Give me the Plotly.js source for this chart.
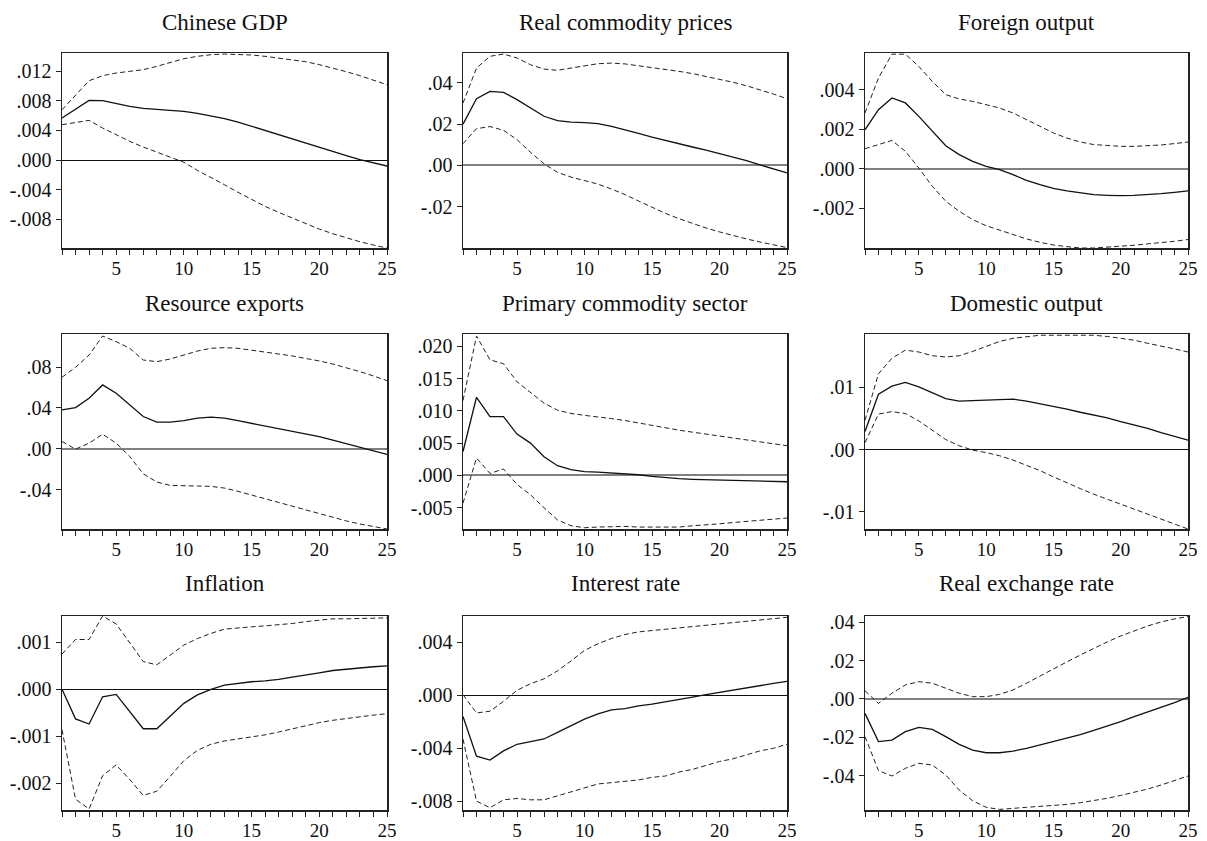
<!DOCTYPE html>
<html>
<head>
<meta charset="utf-8">
<script src="https://cdn.plot.ly/plotly-3.0.1.min.js"></script>
<style>html,body{margin:0;padding:0;background:#fff}#chart{width:1207px;height:841px}</style>
</head>
<body>
<div id="chart"></div>
<script>
// ---------- DATA ----------
const periods = [1,2,3,4,5,6,7,8,9,10,11,12,13,14,15,16,17,18,19,20,21,22,23,24,25];
const xLabelTicks = [5,10,15,20,25];

const titles = ["Chinese GDP","Real commodity prices","Foreign output",
                "Resource exports","Primary commodity sector","Domestic output",
                "Inflation","Interest rate","Real exchange rate"];

// Chinese GDP
const gdpResp  = [.00568,.0069,.00807,.00803,.00762,.00726,.00699,.00686,.00672,.00658,.00631,.006,.00559,.00514,.00456,.00397,.00343,.00284,.0023,.00171,.00117,.00059,.00005,-.00041,-.00081];
const gdpUpper = [.0068,.00884,.01073,.01141,.01177,.012,.01222,.01267,.01321,.01371,.01403,.01425,.01434,.0143,.01421,.01403,.0138,.01357,.0133,.0129,.01245,.01195,.01141,.01082,.01019];
const gdpLower = [.00478,.00508,.00537,.00433,.00343,.00253,.00176,.00104,.0004,-.0003,-.0014,-.00235,-.00334,-.00437,-.00537,-.00627,-.00708,-.00785,-.00861,-.00934,-.00997,-.01055,-.01105,-.0115,-.0119];
// Real commodity prices
const cpResp  = [.02,.0323,.0359,.0354,.0319,.0278,.0238,.0217,.021,.0207,.0202,.0189,.0173,.0155,.0137,.012,.0103,.0089,.0074,.0058,.0042,.0023,.0002,-.0018,-.0037];
const cpUpper = [.0302,.0472,.0529,.054,.0521,.0488,.0467,.0461,.0472,.0483,.0493,.0496,.0492,.0483,.0475,.0466,.0456,.0445,.0432,.0419,.0403,.0386,.0367,.0346,.0323];
const cpLower = [.0105,.0178,.0188,.017,.0125,.0063,.0008,-.0034,-.0057,-.0073,-.0091,-.0115,-.0142,-.0173,-.0204,-.0233,-.0259,-.0283,-.0304,-.0323,-.0341,-.0357,-.0372,-.0386,-.0399];
// Foreign output
const foResp  = [.00197,.00299,.00358,.00333,.00265,.00189,.00116,.00071,.00037,.00012,-.00005,-.0003,-.00059,-.00081,-.001,-.00113,-.00123,-.00132,-.00135,-.00137,-.00135,-.00132,-.00127,-.0012,-.00113];
const foUpper = [.00282,.00459,.0058,.0058,.00518,.00442,.00375,.00353,.00341,.00324,.00307,.00282,.00248,.00214,.00181,.00155,.00135,.00122,.00116,.00113,.00113,.00115,.0012,.00127,.00135];
const foLower = [.00101,.00122,.00143,.00088,.00003,-.00089,-.00165,-.00216,-.00258,-.00289,-.00312,-.00334,-.00356,-.00373,-.00387,-.00395,-.00402,-.00402,-.00398,-.00393,-.00388,-.00381,-.00376,-.00368,-.00359];
// Resource exports
const reResp  = [.0381,.0404,.0496,.0626,.0544,.043,.0316,.0261,.0261,.0277,.03,.031,.03,.0275,.0249,.0223,.0197,.0171,.0145,.012,.0086,.0051,.0013,-.0022,-.0055];
const reUpper = [.0701,.0799,.0919,.1105,.105,.0985,.087,.0854,.088,.0919,.0958,.0985,.0991,.0985,.0968,.0952,.0929,.091,.0887,.0861,.0831,.0795,.0756,.0714,.0668];
const reLower = [.0072,-.0003,.0055,.0143,.0055,-.0075,-.0245,-.0326,-.0359,-.0365,-.0365,-.0368,-.0385,-.0417,-.0453,-.0489,-.0525,-.0564,-.0603,-.0639,-.0675,-.0707,-.0737,-.0763,-.0786];
// Primary commodity sector
const pcResp  = [.0037,.0121,.0091,.0091,.0064,.005,.0029,.0015,.0009,.0006,.0005,.0004,.0003,.0001,-.00015,-.00036,-.0005,-.0006,-.00067,-.00072,-.00077,-.00082,-.00088,-.00093,-.00098];
const pcUpper = [.0116,.0216,.0179,.0173,.0145,.0129,.0112,.0101,.0096,.0093,.0091,.0088,.0085,.0081,.0077,.0073,.007,.0067,.0064,.0062,.0059,.0056,.0053,.005,.0046];
const pcLower = [-.0043,.0027,.0003,.001,-.0014,-.003,-.005,-.0069,-.0078,-.0081,-.008,-.0079,-.0079,-.008,-.008,-.0081,-.008,-.0078,-.0077,-.0075,-.0073,-.0071,-.0069,-.0067,-.0066];
// Domestic output
const doResp  = [.0029,.0089,.0102,.0108,.0101,.0091,.0082,.0078,.0079,.008,.0081,.0081,.0078,.0074,.007,.0065,.006,.0056,.0051,.0045,.004,.0034,.0027,.0021,.0015];
const doUpper = [.0047,.0122,.0147,.016,.0157,.0151,.0149,.0151,.0158,.0166,.0174,.0179,.0182,.0184,.0184,.0184,.0184,.0184,.0182,.0179,.0176,.0171,.0167,.0162,.0157];
const doLower = [.0011,.0057,.0061,.0058,.0046,.0031,.0016,.0006,-.0001,-.0005,-.001,-.0017,-.0025,-.0034,-.0044,-.0054,-.0063,-.0072,-.008,-.0088,-.0096,-.0103,-.0112,-.012,-.0128];
// Inflation
const infResp  = [0,-.00063,-.00074,-.00016,-.00011,-.00047,-.00084,-.00084,-.00057,-.0003,-.00012,0,.00009,.00013,.00016,.00018,.00021,.00026,.0003,.00035,.0004,.00043,.00046,.00048,.0005];
const infUpper = [.00075,.00106,.00106,.00156,.00139,.00098,.00059,.00052,.00073,.00094,.00108,.00119,.00128,.00131,.00133,.00135,.00137,.0014,.00144,.00147,.0015,.0015,.00151,.00152,.00152];
const infLower = [-.00086,-.00234,-.00255,-.00184,-.00161,-.00192,-.00226,-.00217,-.00185,-.00152,-.0013,-.00117,-.0011,-.00106,-.00102,-.00097,-.00091,-.00084,-.00077,-.00071,-.00066,-.00062,-.00058,-.00055,-.00052];
// Interest rate
const irResp  = [-.0016,-.0046,-.0049,-.0042,-.0037,-.0035,-.0033,-.0028,-.0023,-.0018,-.0014,-.0011,-.001,-.0008,-.00066,-.0005,-.00033,-.00013,.00005,.00023,.0004,.00055,.00073,.0009,.00106];
const irUpper = [.00005,-.00133,-.0012,-.00045,.00038,.00088,.00125,.00185,.0026,.0034,.0039,.0043,.0046,.0048,.0049,.005,.0051,.0052,.0053,.0054,.0055,.0056,.0057,.0058,.0059];
const irLower = [-.0033,-.008,-.0085,-.0079,-.0078,-.0079,-.0079,-.0076,-.0073,-.007,-.0067,-.0066,-.0065,-.0064,-.0062,-.0061,-.0058,-.0056,-.0053,-.005,-.0048,-.0045,-.0042,-.004,-.0037];
// Real exchange rate
const rerResp  = [-.0075,-.0222,-.0214,-.017,-.0148,-.0158,-.0196,-.0236,-.0266,-.028,-.028,-.0271,-.0257,-.024,-.0222,-.0205,-.0186,-.0163,-.0141,-.0118,-.0092,-.0068,-.0043,-.0019,.0009];
const rerUpper = [.0043,-.0023,.003,.0073,.009,.0082,.0056,.003,.0012,.0012,.0024,.0047,.0082,.012,.0156,.0193,.0229,.0264,.0297,.0328,.0356,.038,.0401,.0417,.0429];
const rerLower = [-.0196,-.0373,-.0401,-.0361,-.0335,-.0344,-.0396,-.0474,-.053,-.0564,-.0575,-.0571,-.0564,-.0559,-.0554,-.0549,-.054,-.053,-.0517,-.0502,-.0486,-.0469,-.0448,-.0425,-.0401];

// y tick values and labels
const yTickVals = [
  [-.008,-.004,0,.004,.008,.012],
  [-.02,0,.02,.04],
  [-.002,0,.002,.004],
  [-.04,0,.04,.08],
  [-.005,0,.005,.01,.015,.02],
  [-.01,0,.01],
  [-.002,-.001,0,.001],
  [-.008,-.004,0,.004],
  [-.04,-.02,0,.02,.04]
];
const yTickText = [
  ["-.008","-.004",".000",".004",".008",".012"],
  ["-.02",".00",".02",".04"],
  ["-.002",".000",".002",".004"],
  ["-.04",".00",".04",".08"],
  ["-.005",".000",".005",".010",".015",".020"],
  ["-.01",".00",".01"],
  ["-.002","-.001",".000",".001"],
  ["-.008","-.004",".000",".004"],
  ["-.04","-.02",".00",".02",".04"]
];
const yRanges = [
  [-0.0119, 0.01448],
  [-0.0401, 0.0545],
  [-0.00402, 0.00586],
  [-0.0786, 0.1125],
  [-0.0083, 0.0219],
  [-0.0128, 0.0186],
  [-0.00257, 0.00156],
  [-0.00867, 0.006],
  [-0.0578, 0.0432]
];

const responses = [gdpResp, cpResp, foResp, reResp, pcResp, doResp, infResp, irResp, rerResp];
const uppers = [gdpUpper, cpUpper, foUpper, reUpper, pcUpper, doUpper, infUpper, irUpper, rerUpper];
const lowers = [gdpLower, cpLower, foLower, reLower, pcLower, doLower, infLower, irLower, rerLower];

// ---------- LAYOUT ----------
const W = 1207, H = 841;
const colPx = [[62,387],[463,787],[865,1188]];
const rowPx = [[53,248],[334,529],[616,810]];
const titleY = [22, 303, 583];
const zeroGray = [false,true,true,true,true,false,false,false,true];
const FONT = "Liberation Serif, Times New Roman, serif";

const xTickText = periods.map(p => xLabelTicks.includes(p) ? String(p) : "");

const data = [];
const layout = {
  width: W, height: H,
  margin: {l:0, r:0, t:0, b:0},
  paper_bgcolor: "#fff", plot_bgcolor: "#fff",
  showlegend: false,
  font: {family: FONT, color: "#111"},
  annotations: []
};

for (let i = 0; i < 9; i++) {
  const r = Math.floor(i / 3), c = i % 3;
  const sfx = i === 0 ? "" : String(i + 1);
  const xa = "x" + sfx, ya = "y" + sfx;
  const lineDash = {color: "#222", width: 1, dash: "5px,3px"};
  data.push({x: periods, y: uppers[i], xaxis: xa, yaxis: ya, mode: "lines", line: lineDash, hoverinfo: "skip"});
  data.push({x: periods, y: lowers[i], xaxis: xa, yaxis: ya, mode: "lines", line: lineDash, hoverinfo: "skip"});
  data.push({x: periods, y: responses[i], xaxis: xa, yaxis: ya, mode: "lines", line: {color: "#111", width: 1.3}, hoverinfo: "skip"});

  const xd = [colPx[c][0] / W, colPx[c][1] / W];
  const yd = [1 - rowPx[r][1] / H, 1 - rowPx[r][0] / H];
  layout["xaxis" + sfx] = {
    domain: xd, anchor: ya, range: [1, 25],
    tickmode: "array", tickvals: periods, ticktext: xTickText,
    ticks: "outside", ticklen: 5, tickwidth: 1, tickcolor: "#222",
    ticklabelstandoff: -2,
    showline: true, linecolor: "#222", linewidth: 1.5, mirror: true,
    showgrid: false, zeroline: false,
    tickfont: {family: FONT, size: 19, color: "#111"}
  };
  layout["yaxis" + sfx] = {
    domain: yd, anchor: xa, range: yRanges[i],
    tickmode: "array", tickvals: yTickVals[i], ticktext: yTickText[i],
    ticks: "outside", ticklen: 5, tickwidth: 1, tickcolor: "#222",
    showline: true, linecolor: "#222", linewidth: 1.5, mirror: true,
    showgrid: false,
    zeroline: true, zerolinecolor: zeroGray[i] ? "#808080" : "#111", zerolinewidth: zeroGray[i] ? 2 : 1,
    tickfont: {family: FONT, size: 20, color: "#111"}
  };
  layout.annotations.push({
    text: titles[i], xref: "paper", yref: "paper",
    x: (xd[0] + xd[1]) / 2, y: 1 - titleY[r] / H,
    xanchor: "center", yanchor: "middle", showarrow: false,
    font: {family: FONT, size: 23, color: "#111"}
  });
}

Plotly.newPlot("chart", data, layout, {displayModeBar: false, staticPlot: true});
</script>
</body>
</html>
